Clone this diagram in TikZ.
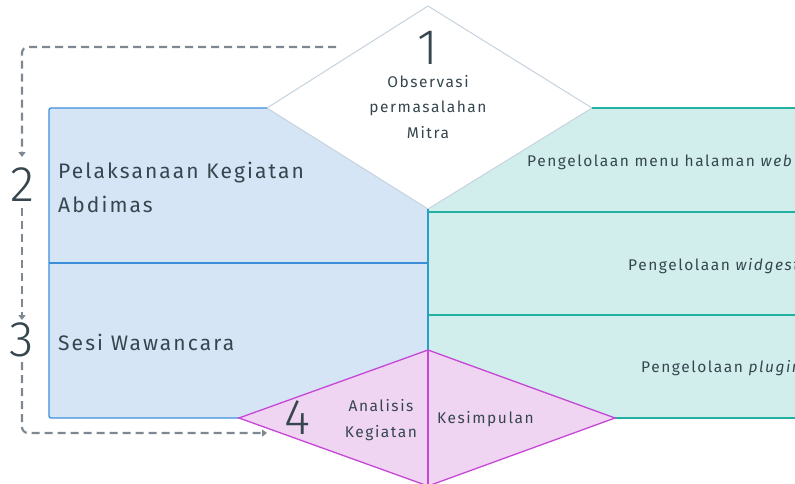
\documentclass[tikz,border=0pt]{standalone}
\usepackage{fontspec}
\setmainfont{Fira Sans}[LetterSpace=10]
\newfontfamily\numfont{Fira Sans Light}
\usetikzlibrary{arrows.meta}
\definecolor{bluefill}{HTML}{D5E5F5}
\definecolor{blueline}{HTML}{3C8EDB}
\definecolor{tealfill}{HTML}{D1EEEC}
\definecolor{tealline}{HTML}{22B0A0}
\definecolor{midline}{HTML}{2A9EC6}
\definecolor{pinkfill}{HTML}{F0D5F3}
\definecolor{pinkline}{HTML}{C646D6}
\definecolor{dline}{HTML}{C6D3DE}
\definecolor{txt}{HTML}{36464F}
\definecolor{dashgray}{HTML}{7D8892}
\tikzset{
  x=1pt, y=-1pt,
  bignum/.style={text=txt, font=\numfont\fontsize{50}{50}\selectfont, inner sep=0pt},
  bodytxt/.style={text=txt, font=\fontsize{21}{34}\selectfont, inner sep=0pt, align=left},
  smalltxt/.style={text=txt, font=\fontsize{15.5}{25.5}\selectfont, inner sep=0pt, align=center},
  righttxt/.style={text=txt, font=\fontsize{15.5}{20}\selectfont, inner sep=0pt, anchor=west},
  dasharrow/.style={draw=dashgray, line width=2.2pt, dash pattern=on 8pt off 5pt, rounded corners=6pt, -{Triangle[width=7pt,length=5pt]}}
}
\begin{document}
\begin{tikzpicture}
\useasboundingbox (0,0) rectangle (795,483);
\clip (0,0) rectangle (795,483);
% regions
\fill[bluefill] (49,108) rectangle (428,418);
\fill[tealfill] (428,108) rectangle (800,418);
% diamond 1
\coordinate (d1t) at (428,6);
\coordinate (d1l) at (267,108);
\coordinate (d1r) at (592,108);
\coordinate (d1b) at (428,209);
\filldraw[fill=white, draw=dline, line width=1pt] (d1t) -- (d1r) -- (d1b) -- (d1l) -- cycle;
% blue borders
\draw[blueline, line width=1.3pt, rounded corners=2pt] (d1l) -- (49,108) -- (49,418) -- (239,418);
\draw[blueline, line width=1.3pt] (49,263) -- (428,263);
% teal borders
\draw[tealline, line width=1.3pt] (d1r) -- (800,108);
\draw[tealline, line width=1.3pt] (428,212) -- (800,212);
\draw[tealline, line width=1.3pt] (428,315) -- (800,315);
\draw[tealline, line width=1.3pt] (615,418) -- (800,418);
\draw[midline, line width=1.3pt] (d1b) -- (428,350);
% diamond 4
\coordinate (d4t) at (428,350);
\coordinate (d4l) at (239,418);
\coordinate (d4r) at (615,418);
\coordinate (d4b) at (428,486);
\filldraw[fill=pinkfill, draw=pinkline, line width=1.3pt] (d4t) -- (d4r) -- (d4b) -- (d4l) -- cycle;
\draw[pinkline, line width=1.3pt] (d4t) -- (d4b);
% numbers
\node[bignum] (n1) at (428,48) {1};
\node[bignum] (n2) at (22,185) {2};
\node[bignum] (n3) at (22,340) {3};
\node[bignum] (n4) at (297,418) {4};
% texts
\node[smalltxt] (t1) at (428,107) {Observasi\\permasalahan\\Mitra};
\node[bodytxt, anchor=west] (t2) at (58,187) {Pelaksanaan Kegiatan\\Abdimas};
\node[bodytxt, anchor=west] (t3) at (58,342) {Sesi Wawancara};
\node[righttxt] (r1) at (527,162) {Pengelolaan menu halaman \textit{web}};
\node[righttxt] (r2) at (628,266) {Pengelolaan \textit{widgest}};
\node[righttxt] (r3) at (641,368) {Pengelolaan \textit{plugin}};
\node[smalltxt] (t4) at (381,420) {Analisis\\Kegiatan};
\node[smalltxt, anchor=west] (t5) at (437,419) {Kesimpulan};
% dashed connectors
\coordinate (s1) at (336,47);
\coordinate (e1) at (22,157);
\draw[dasharrow] (s1) -| (e1);
\coordinate (s2) at (22,208);
\coordinate (e2) at (22,320);
\draw[dasharrow] (s2) -- (e2);
\coordinate (s3) at (22,362);
\coordinate (e3) at (267,433);
\draw[dasharrow] (s3) |- (e3);
\end{tikzpicture}
\end{document}
